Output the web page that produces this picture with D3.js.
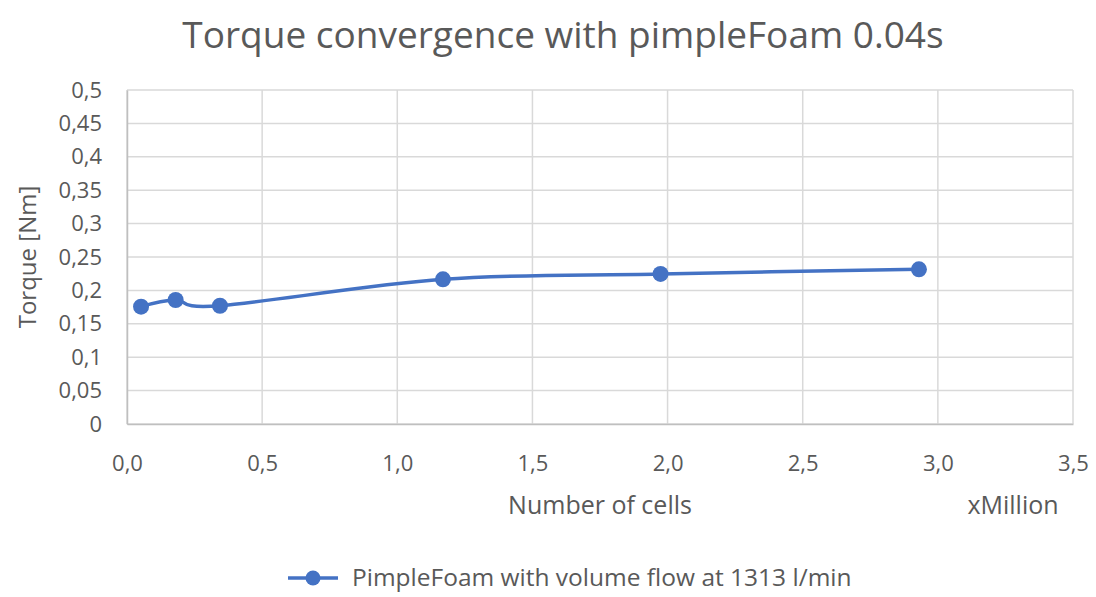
<!DOCTYPE html>
<html>
<head>
<meta charset="utf-8">
<script src="https://cdn.jsdelivr.net/npm/d3@7"></script>
<style>
  body { margin: 0; background: #fff; }
  text { font-family: "Open Sans", "Noto Sans", sans-serif; fill: #595959; }
</style>
</head>
<body>
<div id="chart"></div>
<script>
// values (cells in millions, torque in Nm)
var cells = [0.052, 0.180, 0.344, 1.169, 1.974, 2.930];
var torque = [0.1756, 0.1856, 0.1770, 0.2166, 0.2246, 0.2316];
var xTicks = [0, 0.5, 1, 1.5, 2, 2.5, 3, 3.5];
var yTicks = [0, 0.05, 0.1, 0.15, 0.2, 0.25, 0.3, 0.35, 0.4, 0.45, 0.5];
var seriesName = 'PimpleFoam with volume flow at 1313 l/min';

var width = 1096, height = 597;
// plot box (note: "top" is taken by window.top, so use plotTop)
var plotLeft = 127, plotRight = 1073, plotTop = 90, plotBottom = 424;
var lineColor = '#4472c4';
var gridColor = '#d9d9d9';

var svg = d3.select('#chart').append('svg')
    .attr('width', width)
    .attr('height', height);

var x = d3.scaleLinear().domain([0, 3.5]).range([plotLeft, plotRight]);
var y = d3.scaleLinear().domain([0, 0.5]).range([plotBottom, plotTop]);

function comma(v, digits) {
    return (digits == null ? String(v) : v.toFixed(digits)).replace('.', ',');
}

// grid lines
svg.append('g')
    .selectAll('line')
    .data(yTicks)
    .enter().append('line')
    .attr('x1', plotLeft).attr('x2', plotRight)
    .attr('y1', function(d) { return y(d); })
    .attr('y2', function(d) { return y(d); })
    .attr('stroke', gridColor)
    .attr('stroke-width', 1.5);

svg.append('g')
    .selectAll('line')
    .data(xTicks)
    .enter().append('line')
    .attr('y1', plotTop).attr('y2', plotBottom)
    .attr('x1', function(d) { return x(d); })
    .attr('x2', function(d) { return x(d); })
    .attr('stroke', gridColor)
    .attr('stroke-width', 1.5);

// axes (labels only, Excel-like)
var xAxis = d3.axisBottom(x).tickValues(xTicks).tickSize(0).tickPadding(31)
    .tickFormat(function(d) { return comma(d, 1); });
var gx = svg.append('g').attr('transform', 'translate(0,' + plotBottom + ')').call(xAxis);
gx.select('.domain').attr('stroke', '#bfbfbf').attr('stroke-width', 1.5);
gx.selectAll('text').style('font-size', '22px').attr('fill', '#595959');

var yAxis = d3.axisLeft(y).tickValues(yTicks).tickSize(0).tickPadding(25)
    .tickFormat(function(d) { return comma(d); });
var gy = svg.append('g').attr('transform', 'translate(' + plotLeft + ',0)').call(yAxis);
gy.select('.domain').attr('stroke', '#bfbfbf').attr('stroke-width', 1.5);
gy.selectAll('text').style('font-size', '22px').attr('fill', '#595959');

// series
var pts = cells.map(function(c, i) { return [c, torque[i]]; });
var line = d3.line()
    .x(function(d) { return x(d[0]); })
    .y(function(d) { return y(d[1]); })
    .curve(d3.curveCatmullRom.alpha(0));

svg.append('path')
    .datum(pts)
    .attr('d', line)
    .attr('fill', 'none')
    .attr('stroke', lineColor)
    .attr('stroke-width', 3.5)
    .attr('stroke-linecap', 'round');

svg.append('g')
    .selectAll('circle')
    .data(pts)
    .enter().append('circle')
    .attr('cx', function(d) { return x(d[0]); })
    .attr('cy', function(d) { return y(d[1]); })
    .attr('r', 8)
    .attr('fill', lineColor);

// titles
svg.append('text')
    .attr('x', 563).attr('y', 48)
    .attr('text-anchor', 'middle')
    .style('font-size', '37px')
    .text('Torque convergence with pimpleFoam 0.04s');

svg.append('text')
    .attr('transform', 'translate(36,' + ((plotTop + plotBottom) / 2) + ') rotate(-90)')
    .attr('text-anchor', 'middle')
    .style('font-size', '24px')
    .text('Torque [Nm]');

svg.append('text')
    .attr('x', 600).attr('y', 514)
    .attr('text-anchor', 'middle')
    .style('font-size', '25px')
    .text('Number of cells');

svg.append('text')
    .attr('x', 1013).attr('y', 514)
    .attr('text-anchor', 'middle')
    .style('font-size', '25px')
    .text('xMillion');

// legend
var lg = svg.append('g').attr('transform', 'translate(288,578)');
lg.append('line')
    .attr('x1', 0).attr('x2', 50).attr('y1', 0).attr('y2', 0)
    .attr('stroke', lineColor).attr('stroke-width', 3.5);
lg.append('circle').attr('cx', 25).attr('cy', 0).attr('r', 7.5).attr('fill', lineColor);
lg.append('text')
    .attr('x', 64).attr('y', 8)
    .style('font-size', '24.5px')
    .text(seriesName);
</script>
</body>
</html>
